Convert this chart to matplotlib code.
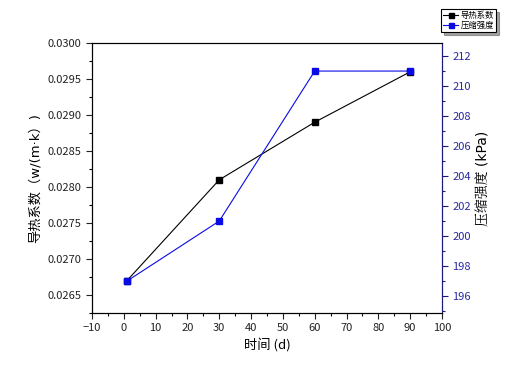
import matplotlib
matplotlib.use("Agg")
import matplotlib.pyplot as plt
from matplotlib.ticker import MultipleLocator, FormatStrFormatter

plt.rcParams['font.family'] = ['Noto Sans CJK SC', 'DejaVu Sans']

days = [1, 30, 60, 90]
conductivity = [0.0267, 0.0281, 0.0289, 0.0296]
strength = [197, 201, 211, 211]

label_k = "导热系数"
label_s = "压缩强度"
xlabel = "时间 (d)"
ylabel_left = "导热系数（w/(m·k）)"
ylabel_right = "压缩强度 (kPa)"

navy = "#1a1a80"
blue = "#0a0ae6"

fig = plt.figure(figsize=(5.16, 3.79), dpi=100)
ax = fig.add_axes([92/516, 1-313/379, 350/516, 270/379])
ax2 = ax.twinx()

l1, = ax.plot(days, conductivity, color='black', lw=0.8, marker='s', ms=4.5, label=label_k)
l2, = ax2.plot(days, strength, color=blue, lw=0.8, marker='s', ms=4.5, label=label_s)

ax.set_xlim(-10, 100)
ax.set_ylim(0.02625, 0.0300)
ax2.set_ylim(194.87, 212.87)

ax.xaxis.set_major_locator(MultipleLocator(10))
ax.xaxis.set_minor_locator(MultipleLocator(5))
ax.yaxis.set_major_locator(MultipleLocator(0.0005))
ax.yaxis.set_minor_locator(MultipleLocator(0.00025))
ax.yaxis.set_major_formatter(FormatStrFormatter('%.4f'))
ax2.yaxis.set_major_locator(MultipleLocator(2))
ax2.yaxis.set_minor_locator(MultipleLocator(1))

fs = 8
ax.tick_params(axis='both', which='major', direction='out', length=4, width=0.8, labelsize=fs, colors='#222222')
ax.tick_params(axis='both', which='minor', direction='out', length=2, width=0.8)
ax.tick_params(axis='x', top=False)
ax2.tick_params(axis='y', which='major', direction='out', length=4, width=0.8, labelsize=fs, colors=navy, labelcolor='#2a2aa0')
ax2.tick_params(axis='y', which='minor', direction='out', length=2, width=0.8, colors=navy)
ax2.spines['right'].set_color(navy)
for s in ['left', 'bottom', 'top']:
    ax.spines[s].set_linewidth(0.8)
ax2.spines['right'].set_linewidth(0.8)

ax.set_xlabel(xlabel, fontsize=9.5)
ax.set_ylabel(ylabel_left, fontsize=9.5, family=['DejaVu Sans', 'Noto Sans CJK SC'])
ax2.set_ylabel(ylabel_right, fontsize=10, family=['DejaVu Sans', 'Noto Serif CJK SC', 'Noto Sans CJK SC'])

leg = fig.legend(handles=[l1, l2], loc='upper left', bbox_to_anchor=(441/516, 1-9/379),
                 fontsize=6, frameon=True, fancybox=False, shadow=True, edgecolor='black',
                 borderpad=0.25, labelspacing=0.15, handlelength=1.8, handletextpad=0.3,
                 borderaxespad=0, markerscale=0.8)
leg.get_frame().set_linewidth(0.8)

fig.savefig("out.png", dpi=100)
